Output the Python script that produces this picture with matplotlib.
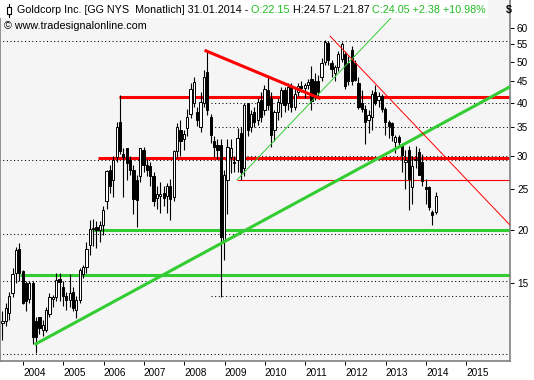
import matplotlib
matplotlib.use('Agg')
import matplotlib.pyplot as plt
from matplotlib.patches import Rectangle
from matplotlib.lines import Line2D
from matplotlib.ticker import FixedLocator, NullLocator

# Monatskerzen Goldcorp (GG NYS), ab Mitte 2003 bis 31.01.2014
opens = [12.1, 12.2, 12.75, 14.2, 15.9, 18.1, 16.0, 15.0, 13.8, 15.0,
         12.2, 12.5, 11.65, 11.65, 12.7, 13.75, 13.95, 15.35, 14.7, 14.0,
         13.7, 14.3, 13.0, 13.7, 15.8, 16.4, 18.5, 20.1, 20.4, 20.0,
         20.6, 23.4, 27.7, 26.3, 29.8, 36.1, 30.3, 31.2, 29.3, 27.8,
         26.3, 26.8, 31.0, 28.5, 28.3, 26.8, 23.9, 24.1, 24.5, 24.1,
         25.4, 24.0, 30.7, 34.5, 32.9, 34.8, 37.7, 40.0, 38.0, 35.0,
         40.0, 47.3, 37.1, 32.4, 31.8, 31.8, 19.0, 26.3, 29.8, 29.0,
         29.3, 33.9, 28.0, 39.85, 35.1, 38.1, 36.4, 40.6, 38.4, 42.9,
         41.0, 34.5, 38.0, 40.0, 42.9, 40.0, 43.5, 39.0, 42.5, 43.8,
         43.3, 44.0, 45.5, 44.9, 45.0, 46.0, 50.0, 55.3, 49.5, 47.0,
         48.5, 50.7, 52.0, 49.5, 53.2, 49.5, 44.5, 40.0, 38.6, 36.5,
         37.0, 42.5, 40.5, 41.4, 38.6, 36.0, 35.8, 32.3, 33.2, 31.7,
         29.0, 31.0, 25.3, 29.3, 30.6, 29.0, 25.3, 25.3, 22.1, 22.15]
highs = [12.9, 13.5, 14.3, 16.3, 18.3, 18.7, 16.1, 15.2, 15.2, 15.2,
         12.5, 12.5, 12.3, 13.2, 14.2, 14.1, 15.9, 15.9, 15.2, 14.3,
         15.8, 14.7, 14.0, 16.3, 16.6, 18.8, 21.2, 21.3, 21.0, 21.0,
         22.8, 27.8, 28.5, 30.0, 36.0, 41.7, 31.2, 31.2, 30.0, 28.5,
         27.0, 31.3, 31.5, 29.5, 29.0, 27.5, 25.5, 26.0, 25.5, 25.8,
         26.5, 30.9, 35.8, 36.5, 34.5, 38.6, 44.4, 46.1, 39.0, 42.3,
         47.8, 53.2, 37.7, 33.3, 32.9, 32.9, 27.8, 32.9, 32.9, 30.0,
         34.8, 35.0, 39.85, 40.0, 38.5, 39.0, 41.0, 42.5, 44.0, 46.1,
         42.5, 38.5, 41.0, 43.6, 43.5, 44.5, 44.5, 43.0, 44.5, 45.0,
         44.5, 45.5, 48.7, 47.0, 46.5, 51.0, 56.2, 55.8, 50.5, 49.0,
         53.0, 55.5, 53.0, 51.5, 54.5, 50.5, 46.0, 42.9, 39.5, 38.5,
         42.9, 44.0, 42.5, 42.0, 39.0, 36.5, 36.0, 33.5, 33.5, 32.0,
         31.0, 31.7, 30.0, 31.7, 31.2, 30.3, 26.5, 25.5, 22.3, 24.57]
lows = [11.0, 11.9, 12.3, 13.9, 15.0, 15.2, 13.4, 12.9, 13.5, 10.8,
        10.25, 11.4, 11.3, 11.5, 12.5, 13.2, 13.6, 13.6, 13.3, 13.0,
        13.2, 12.9, 12.4, 13.5, 15.4, 15.9, 17.5, 18.4, 18.2, 18.8,
        19.5, 22.5, 24.5, 24.0, 29.0, 30.3, 24.0, 26.3, 27.0, 21.8,
        20.4, 26.0, 27.5, 26.8, 25.5, 22.8, 22.5, 22.0, 22.8, 22.0,
        21.2, 23.5, 29.6, 30.0, 31.0, 33.3, 36.8, 39.1, 35.2, 34.2,
        39.1, 37.5, 32.2, 29.8, 29.5, 13.95, 17.0, 21.9, 27.3, 27.5,
        27.5, 26.3, 26.8, 33.3, 34.2, 35.0, 35.5, 36.0, 37.5, 38.5,
        31.5, 32.5, 36.5, 37.0, 38.0, 38.5, 38.0, 38.5, 41.5, 42.5,
        41.0, 43.0, 38.4, 40.5, 41.3, 45.0, 49.0, 49.0, 46.0, 45.0,
        47.5, 50.0, 43.0, 44.0, 44.0, 45.0, 38.6, 38.0, 32.0, 34.0,
        34.5, 39.5, 39.0, 38.0, 33.5, 33.0, 32.5, 30.5, 31.5, 27.5,
        25.0, 22.3, 23.1, 28.0, 27.0, 25.5, 23.1, 22.3, 20.6, 21.87]
closes = [12.2, 13.1, 14.0, 15.8, 18.0, 15.9, 13.5, 13.6, 15.0, 11.2,
          11.2, 11.75, 11.95, 13.0, 13.95, 13.95, 15.3, 15.1, 14.0, 13.7,
          14.2, 13.1, 13.7, 16.1, 16.4, 18.1, 20.1, 20.3, 20.0, 20.6,
          22.3, 27.6, 25.45, 29.3, 35.1, 30.7, 29.8, 28.8, 27.8, 23.7,
          23.6, 31.2, 28.55, 27.8, 26.8, 23.4, 24.3, 24.3, 23.8, 25.4,
          23.7, 30.7, 35.0, 32.4, 33.8, 37.1, 43.0, 44.8, 36.4, 40.2,
          45.9, 38.4, 33.6, 31.5, 31.0, 19.3, 27.0, 31.5, 31.2, 28.8,
          33.0, 27.5, 39.5, 34.5, 37.7, 36.1, 40.2, 37.1, 43.0, 39.5,
          33.5, 38.0, 40.2, 42.9, 39.5, 43.5, 39.0, 42.0, 43.8, 43.3,
          44.0, 44.8, 40.3, 41.2, 42.5, 49.5, 55.5, 50.4, 48.0, 48.5,
          52.0, 55.0, 43.8, 45.0, 45.0, 45.2, 39.0, 38.6, 36.1, 37.5,
          42.0, 40.0, 41.5, 38.6, 36.0, 35.3, 33.5, 33.2, 32.3, 30.1,
          29.3, 26.5, 28.3, 29.5, 27.0, 26.2, 25.1, 22.7, 21.7, 24.05]

first_month = 2003.49  # Lage der ersten Kerze (Jahr)
years = list(range(2004, 2016))
price_ticks = [15, 20, 25, 30, 35, 40, 45, 50, 55, 60]

# Linien: (start_jahr, preis)
red_levels = [(2006.39, 41.2), (2005.87, 29.7)]
red_thin_level = (2009.31, 26.3)
green_levels = [(2005.70, 20.0), (2003.93, 15.7)]
green_trend = [(2004.32, 10.8), (2016.08, 43.6)]
green_thin = [(2009.31, 26.3), (2013.55, 69.8)]
red_thin_trend = [(2011.62, 57.4), (2016.08, 20.6)]
red_trend = [(2008.54, 53.0), (2011.35, 41.0)]
dotted_levels = [(2003.0, 56.0), (2008.67, 40.0), (2008.67, 35.0), (2009.56, 30.0),
                 (2003.0, 29.25), (2003.0, 19.6), (2003.0, 15.2), (2008.67, 14.0),
                 (2003.0, 10.2)]

W, H = 534, 380
fig = plt.figure(figsize=(W / 100, H / 100), dpi=100)
fig.patch.set_facecolor('white')
ax = fig.add_axes([0, 19 / H, 510 / W, 361 / H])
ax.set_facecolor('#f5f5f5')
ax.set_yscale('log')
ax.set_xlim(2003.429, 2016.084)
ax.set_ylim(9.84, 69.85)
xend = 2017

red = '#ff0000'
green = '#33cc33'

for x0, p in dotted_levels:
    ax.hlines(p, x0, xend, colors='black', linestyles=(0, (1, 2.5)), lw=0.75, zorder=1)
for x0, p in green_levels:
    ax.hlines(p, x0, xend, colors=green, lw=2.2, zorder=2)
for x0, p in red_levels:
    ax.hlines(p, x0, xend, colors=red, lw=2.2, zorder=2)
ax.hlines(red_thin_level[1], red_thin_level[0], xend, colors=red, lw=0.8, zorder=2)

ax.plot(*zip(*green_trend), color=green, lw=2.2, zorder=4)
ax.plot(*zip(*green_thin), color=green, lw=0.7, zorder=4)
ax.plot(*zip(*red_thin_trend), color=red, lw=0.7, zorder=4)
ax.plot(*zip(*red_trend), color=red, lw=2.2, zorder=4)

# Kerzen
bw = 0.055
for i in range(len(closes)):
    x = first_month + i / 12
    o, h, l, c = opens[i], highs[i], lows[i], closes[i]
    ax.vlines(x, l, h, colors='black', lw=0.8, zorder=3)
    up = c >= o
    ax.add_patch(Rectangle((x - bw / 2, min(o, c)), bw, max(abs(c - o), 0.05),
                           facecolor='white' if up else 'black',
                           edgecolor='black', lw=0.7, zorder=3))

ax.spines['top'].set_visible(False)
for s in ['left', 'bottom', 'right']:
    ax.spines[s].set_color('#808080')
    ax.spines[s].set_linewidth(1.2)

ax.yaxis.tick_right()
ax.yaxis.set_major_locator(FixedLocator(price_ticks))
ax.yaxis.set_minor_locator(NullLocator())
ax.set_yticklabels([str(t) for t in price_ticks])
ax.set_xticks(years)
ax.set_xticklabels([str(y) for y in years], ha='left')
ax.tick_params(axis='both', length=3, width=0.7, color='black', labelsize=7.2, pad=2)
for lab in ax.get_xticklabels() + ax.get_yticklabels():
    lab.set_fontfamily('Liberation Sans')

# Kopfzeile
fig.add_artist(Rectangle((0, 1 - 18 / H), 488 / W, 18 / H, transform=fig.transFigure,
                         facecolor='white', edgecolor='none', zorder=5))
fig.add_artist(Line2D([9 / W, 9 / W], [1 - 4 / H, 1 - 17 / H], transform=fig.transFigure,
                      color='black', lw=0.8, zorder=6))
fig.add_artist(Rectangle((7 / W, 1 - 14 / H), 4 / W, 7 / H, transform=fig.transFigure,
                         facecolor='white', edgecolor='black', lw=0.8, zorder=7))

parts = [('Goldcorp Inc. [GG NYS  Monatlich] 31.01.2014 - ', 'black'),
         ('O:22.15 ', '#22bb22'),
         ('H:24.57 L:21.87 ', 'black'),
         ('C:24.05 +2.38 +10.98%', '#22bb22')]
renderer = fig.canvas.get_renderer()
xpos = 17 / W
for txt, col in parts:
    t = fig.text(xpos, 1 - 10 / H, txt, color=col, fontsize=7.75, va='center',
                 family='Liberation Sans', zorder=8)
    bb = t.get_window_extent(renderer)
    xpos = bb.x1 / W

fig.text(4 / W, 1 - 26 / H, '\u00a9 www.tradesignalonline.com', fontsize=7.75,
         va='center', family='Liberation Sans', zorder=8)
fig.text(506 / W, 1 - 10 / H, '$', fontsize=7.6, va='center', family='Liberation Sans',
         fontweight='bold', zorder=8)

fig.savefig('out.png', dpi=100)
